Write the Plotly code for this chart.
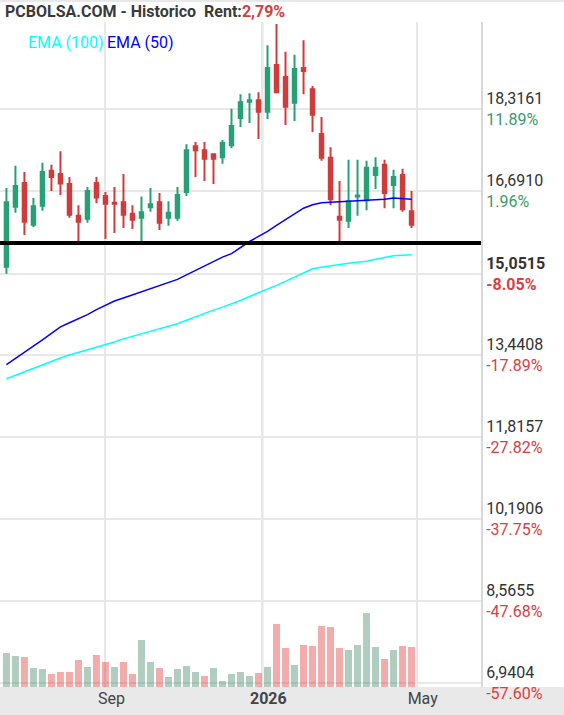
import pandas as pd
import plotly.graph_objects as go

# weekly candles, Mondays
fechas = pd.date_range("2025-06-16", periods=46, freq="7D")

apertura = [15.19, 16.38, 16.85, 16.02, 16.40, 17.09, 17.03, 16.83, 16.20, 16.14,
            16.85, 16.59, 16.46, 16.47, 16.24, 16.16, 16.37, 16.47, 16.16, 16.16,
            16.67, 17.58, 17.50, 17.42, 17.36, 17.60, 18.14, 18.46, 18.49, 18.26,
            19.19, 18.95, 18.44, 19.13, 18.71, 17.82, 17.35, 16.18, 16.10, 16.58,
            16.51, 17.01, 17.21, 16.81, 17.01, 16.29]
maximo = [16.75, 17.19, 17.07, 16.55, 17.25, 17.21, 17.48, 16.97, 16.41, 16.77,
          16.97, 16.67, 16.77, 17.03, 16.41, 16.58, 16.75, 16.65, 16.49, 16.77,
          17.62, 17.66, 17.66, 17.44, 17.70, 18.32, 18.61, 18.63, 18.65, 19.58,
          20.00, 19.45, 19.39, 19.68, 18.77, 18.16, 17.56, 16.89, 17.31, 17.31,
          17.29, 17.36, 17.31, 17.11, 17.13, 16.69]
minimo = [15.05, 16.26, 15.82, 15.98, 16.30, 16.69, 16.61, 16.16, 15.69, 16.06,
          16.45, 15.74, 15.86, 15.96, 15.94, 15.67, 16.28, 15.92, 16.00, 16.10,
          16.59, 16.97, 16.89, 16.83, 17.23, 17.54, 17.96, 18.04, 17.72, 18.12,
          18.63, 18.00, 18.08, 18.61, 17.86, 17.29, 16.41, 15.66, 15.96, 16.20,
          16.31, 16.73, 16.35, 16.35, 16.28, 15.96]
cierre = [16.47, 16.79, 16.08, 16.39, 17.07, 16.97, 16.84, 16.22, 16.08, 16.69,
          16.56, 16.44, 16.44, 16.22, 16.12, 16.27, 16.43, 16.06, 16.26, 16.61,
          17.50, 17.50, 17.33, 17.33, 17.64, 17.98, 18.45, 18.49, 18.26, 19.13,
          18.65, 18.36, 19.11, 19.07, 18.20, 17.35, 16.53, 16.12, 16.49, 16.60,
          17.15, 17.15, 16.65, 16.97, 16.33, 16.02]
volumen = [102, 93, 90, 57, 54, 39, 45, 45, 81, 60, 96, 75, 60, 75, 39, 141,
           75, 57, 30, 54, 63, 45, 33, 57, 18, 39, 45, 33, 42, 60, 189, 117,
           66, 126, 123, 183, 180, 117, 111, 126, 222, 120, 84, 111, 123, 120]
ema50 = [13.25, 13.37, 13.49, 13.61, 13.74, 13.87, 14.00, 14.08, 14.16, 14.24,
         14.34, 14.43, 14.51, 14.57, 14.63, 14.69, 14.75, 14.81, 14.87, 14.94,
         15.03, 15.12, 15.20, 15.29, 15.38, 15.45, 15.57, 15.69, 15.79, 15.89,
         16.01, 16.12, 16.24, 16.35, 16.42, 16.46, 16.47, 16.48, 16.49, 16.49,
         16.50, 16.51, 16.53, 16.55, 16.54, 16.53]
ema100 = [12.97, 13.04, 13.11, 13.18, 13.24, 13.31, 13.38, 13.44, 13.49, 13.55,
          13.60, 13.65, 13.70, 13.76, 13.81, 13.87, 13.91, 13.96, 14.01, 14.06,
          14.13, 14.20, 14.27, 14.33, 14.39, 14.45, 14.52, 14.60, 14.67, 14.74,
          14.82, 14.90, 14.98, 15.07, 15.15, 15.18, 15.21, 15.24, 15.26, 15.28,
          15.30, 15.34, 15.37, 15.41, 15.42, 15.43]
soporte = 15.66

precios_eje = [18.3161, 16.6910, 15.0515, 13.4408, 11.8157, 10.1906, 8.5655, 6.9404]
textos_eje = ["18,3161", "16,6910", "15,0515", "13,4408", "11,8157", "10,1906", "8,5655", "6,9404"]
pct_eje = ["11.89%", "1.96%", "-8.05%", "-17.89%", "-27.82%", "-37.75%", "-47.68%", "-57.60%"]

meses = ["2025-09-01", "2026-01-01", "2026-05-01"]
textos_meses = ["Sep", "<b>2026</b>", "May"]

VERDE = "#26a176"
ROJO = "#d03b3b"

etiquetas = []
for t, p in zip(textos_eje, pct_eje):
    color = "#3a9a6c" if not p.startswith("-") else "#d9403f"
    if t == "15,0515":
        etiquetas.append(f"<b>{t}</b><br><b><span style='color:{color}'>{p}</span></b>")
    else:
        etiquetas.append(f"{t}<br><span style='color:{color}'>{p}</span>")

col_vol = []
for i, c in enumerate(cierre):
    if i == 0 or c >= cierre[i - 1]:
        col_vol.append("rgba(58,130,95,0.4)")
    else:
        col_vol.append("rgba(225,48,48,0.4)")

fig = go.Figure()

fig.add_trace(go.Bar(x=fechas, y=volumen, marker_color=col_vol, marker_line_width=0,
                     yaxis="y2", showlegend=False))

fig.add_trace(go.Scatter(x=fechas, y=ema100, mode="lines",
                         line=dict(color="#00ffff", width=1.5), showlegend=False))
fig.add_trace(go.Scatter(x=fechas, y=ema50, mode="lines",
                         line=dict(color="#0000ff", width=1.5), showlegend=False))

fig.add_trace(go.Candlestick(
    x=fechas, open=apertura, high=maximo, low=minimo, close=cierre,
    increasing=dict(line=dict(color=VERDE, width=2), fillcolor=VERDE),
    decreasing=dict(line=dict(color=ROJO, width=2), fillcolor=ROJO),
    whiskerwidth=0, showlegend=False,
))

alto = 665
fig.update_layout(
    width=564, height=715,
    margin=dict(l=0, r=83, t=22, b=28, pad=0),
    paper_bgcolor="white", plot_bgcolor="white",
    font=dict(family="Roboto", size=16, color="#333"),
    boxgap=0.45, bargap=0.22,
    showlegend=False,
    xaxis=dict(
        type="date", range=["2025-06-11", "2026-06-20"],
        tickvals=meses, ticktext=textos_meses,
        showgrid=True, gridcolor="#e8e8e8", gridwidth=2,
        rangeslider=dict(visible=False),
        ticks="", tickfont=dict(size=16, color="#444"),
        ticklabelshift=6, zeroline=False, automargin=False,
    ),
    yaxis=dict(
        side="right", range=[6.8613, 20.0403],
        tickvals=precios_eje, ticktext=etiquetas,
        showgrid=True, gridcolor="#e8e8e8", gridwidth=2,
        showline=True, mirror=True, linecolor="#d9d9d9", linewidth=2,
        ticks="", tickfont=dict(size=16, color="#333"), zeroline=False,
        automargin=False,
    ),
    yaxis2=dict(overlaying="y", range=[0, 1995], visible=False),
)

fig.add_shape(type="rect", xref="paper", yref="paper", x0=0, x1=564 / 481,
              y0=-28 / alto, y1=0, fillcolor="#e9e9e9", line_width=0, layer="below")
fig.add_shape(type="line", xref="paper", yref="paper", x0=0, x1=564 / 481,
              y0=686 / alto, y1=686 / alto, line=dict(color="#e8e8e8", width=2))
fig.add_shape(type="line", xref="x", yref="paper", x0="2026-01-01", x1="2026-01-01",
              y0=0, y1=1, line=dict(color="#d4d4d4", width=2), layer="below")
fig.add_shape(type="line", xref="paper", yref="y", x0=0, x1=1, y0=soporte, y1=soporte,
              line=dict(color="black", width=4))

fig.add_annotation(
    xref="paper", yref="paper", x=3 / 481, y=675 / alto, xanchor="left", yanchor="middle",
    text="<b>PCBOLSA.COM - Historico\u00a0 Rent:<span style='color:#d23f3f'>2,79%</span></b>",
    showarrow=False, font=dict(size=16, color="#3a3a3a"),
)
fig.add_annotation(xref="paper", yref="paper", x=26 / 481, y=644 / alto, xanchor="left",
                   yanchor="middle", text="EMA (100)", showarrow=False,
                   font=dict(size=16, color="#00ffff"))
fig.add_annotation(xref="paper", yref="paper", x=105 / 481, y=644 / alto, xanchor="left",
                   yanchor="middle", text="EMA (50)", showarrow=False,
                   font=dict(size=16, color="#0000ff"))

# page body has a default 8px margin; remove it so the figure sits at the corner
fig.write_html("out.html", config={"displayModeBar": False},
               post_script="document.body.style.margin='0';")
